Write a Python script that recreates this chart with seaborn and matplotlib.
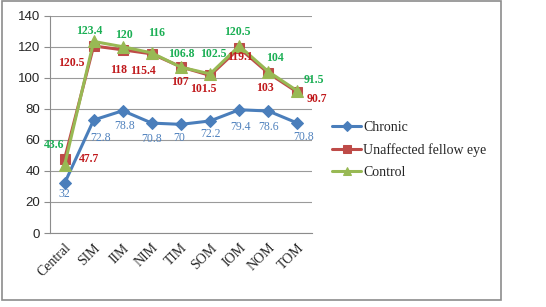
import matplotlib
matplotlib.use("Agg")
import matplotlib.pyplot as plt
from matplotlib.patches import Rectangle
import seaborn as sns
import pandas as pd

categories = ["Central", "SIM", "IIM", "NIM", "TIM", "SOM", "IOM", "NOM", "TOM"]
chronic = [32, 72.8, 78.8, 70.8, 70, 72.2, 79.4, 78.6, 70.8]
unaffected = [47.7, 120.5, 118, 115.4, 107, 101.5, 119.1, 103, 90.7]
control = [43.6, 123.4, 120, 116, 106.8, 102.5, 120.5, 104, 91.5]
series_names = ["Chronic", "Unaffected fellow eye", "Control"]
yticks = [0, 20, 40, 60, 80, 100, 120, 140]

sns.set_theme(style="white")
plt.rcParams["font.family"] = ["Liberation Serif", "DejaVu Serif"]

fig = plt.figure(figsize=(5.46, 3.07), dpi=100)
ax = fig.add_axes([50/546, 1-233/307, 262/546, (233-15.7)/307])

# figure border
fig.patches.append(Rectangle((2/546, 1-300/307), 499/546, 299/307, transform=fig.transFigure,
                             fill=False, edgecolor="#8c8c8c", linewidth=1.2))

xpos = list(range(len(categories)))
styles = [
    dict(color="#4A7EBB", marker="D", ms=6.5, lab_color="#4F81BD", weight="normal"),
    dict(color="#BE4B48", marker="s", ms=7.5, lab_color="#C0181B", weight="bold"),
    dict(color="#98B954", marker="^", ms=8, lab_color="#1AAF54", weight="bold"),
]
offsets = [
    [(0, -11), (7, -18), (2, -15), (0, -16), (-2, -14), (0, -13), (1, -17), (0, -16), (6, -14)],
    [(24, 0), (-22, -17), (-4, -20), (-9, -17), (-1, -15), (-7, -14), (1, -9), (-3, -15), (19, -7)],
    [(-10, 20), (-4, 10), (1, 12), (5, 20), (0, 13), (3, 20), (-2, 14), (7, 14), (16, 11)],
]

for name, vals, st, offs in zip(series_names, [chronic, unaffected, control], styles, offsets):
    df = pd.DataFrame({"x": xpos, "y": vals})
    sns.lineplot(data=df, x="x", y="y", ax=ax, color=st["color"], linewidth=2.2,
                 marker=st["marker"], markersize=st["ms"], markeredgecolor=st["color"],
                 markerfacecolor=st["color"], label=name, sort=False, legend=False)
    for xi, v, (dx, dy) in zip(xpos, vals, offs):
        txt = f"{v:g}"
        ax.annotate(txt, (xi, v), xytext=(dx, dy), textcoords="offset pixels",
                    ha="center", va="center", fontsize=8.5, color=st["lab_color"],
                    fontweight=st["weight"], family=["Liberation Serif", "DejaVu Serif"])

ax.set_xlim(-0.5, len(categories) - 0.5)
ax.set_ylim(0, 140)
ax.set_yticks(yticks)
ax.set_yticklabels([str(t) for t in yticks], family=["Liberation Sans", "DejaVu Sans"], fontsize=9.5)
ax.set_xticks(xpos)
ax.set_xticklabels(categories, rotation=45, ha="right", rotation_mode="anchor", fontsize=10)
ax.set_xticks([i - 0.5 for i in range(len(categories) + 1)], minor=True)
ax.tick_params(axis="x", which="major", length=0, pad=6)
ax.tick_params(axis="x", which="minor", length=4, color="#8c8c8c", width=0.8, direction="out")
ax.tick_params(axis="y", length=4, color="#8c8c8c", width=0.8, direction="out", pad=3, left=True)
ax.set_xlabel("")
ax.set_ylabel("")
ax.grid(axis="y", color="#9a9a9a", linewidth=0.8)
ax.set_axisbelow(True)
for s in ["top", "right"]:
    ax.spines[s].set_visible(False)
for s in ["left", "bottom"]:
    ax.spines[s].set_color("#8c8c8c")
    ax.spines[s].set_linewidth(0.8)

handles, labels = ax.get_legend_handles_labels()
fig.legend(handles, labels, loc="center left", bbox_to_anchor=(332/546, 1-150/307),
           frameon=False, fontsize=10, handlelength=2.1, handletextpad=0.15,
           labelspacing=0.68, borderaxespad=0, borderpad=0, markerscale=0.8)

fig.savefig("out.png", dpi=100)
